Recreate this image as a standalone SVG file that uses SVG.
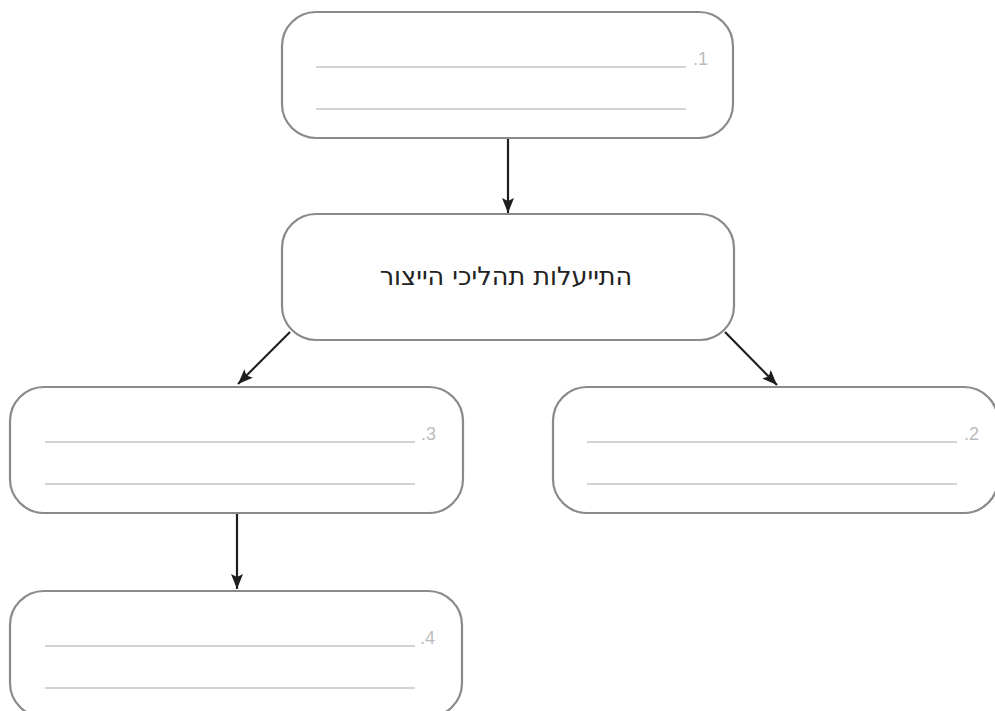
<svg xmlns="http://www.w3.org/2000/svg" width="995" height="711" viewBox="0 0 995 711">
<style>
.box{fill:#fff;stroke:#8a8a8a;stroke-width:2.2}
.rule{stroke:#c4c4c4;stroke-width:1.3}
.num{font-family:"Liberation Sans","DejaVu Sans",sans-serif;font-size:18px;fill:#bcbcbc}
.title{font-family:"DejaVu Sans","Liberation Sans",sans-serif;font-size:25.5px;fill:#222}
.conn{stroke:#1e1e1e;stroke-width:2.2;fill:none}
</style>
<defs>
<marker id="ah" viewBox="0 0 15 12" refX="15" refY="6" markerWidth="15" markerHeight="12" markerUnits="userSpaceOnUse" orient="auto">
<path d="M0,0 L15,6 L0,12 L3,6 Z" fill="#1e1e1e"/>
</marker>
</defs>
<rect width="995" height="711" fill="#fff"/>
<g id="connectors">
<line class="conn" x1="508" y1="139" x2="508" y2="213" marker-end="url(#ah)"/>
<line class="conn" x1="290" y1="332" x2="238" y2="384" marker-end="url(#ah)"/>
<line class="conn" x1="725" y1="332" x2="777" y2="385" marker-end="url(#ah)"/>
<line class="conn" x1="237" y1="514" x2="237" y2="589" marker-end="url(#ah)"/>
</g>
<g id="node1">
<rect class="box" x="282" y="12" width="451" height="126" rx="34"/>
<line class="rule" x1="316" y1="67" x2="686" y2="67"/>
<line class="rule" x1="316" y1="109" x2="686" y2="109"/>
<text class="num" x="693" y="65">.1</text>
</g>
<g id="center">
<rect class="box" x="282" y="214" width="452" height="126" rx="34"/>
<text class="title" x="506" y="285" text-anchor="middle" direction="rtl">התייעלות תהליכי הייצור</text>
</g>
<g id="node2">
<rect class="box" x="553" y="387" width="445" height="126" rx="34"/>
<line class="rule" x1="587" y1="442" x2="957" y2="442"/>
<line class="rule" x1="587" y1="484" x2="957" y2="484"/>
<text class="num" x="964" y="440">.2</text>
</g>
<g id="node3">
<rect class="box" x="10" y="387" width="453" height="126" rx="34"/>
<line class="rule" x1="45" y1="442" x2="415" y2="442"/>
<line class="rule" x1="45" y1="484" x2="415" y2="484"/>
<text class="num" x="421" y="440">.3</text>
</g>
<g id="node4">
<rect class="box" x="10" y="591" width="452" height="126" rx="34"/>
<line class="rule" x1="45" y1="646" x2="415" y2="646"/>
<line class="rule" x1="45" y1="688" x2="415" y2="688"/>
<text class="num" x="420" y="644">.4</text>
</g>
</svg>
